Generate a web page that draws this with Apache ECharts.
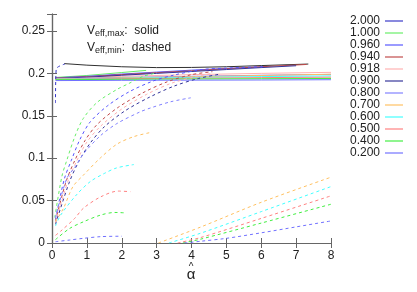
<!DOCTYPE html>
<html><head><meta charset="utf-8">
<script src="https://cdn.jsdelivr.net/npm/echarts@6/dist/echarts.min.js"></script>
<style>html,body{margin:0;padding:0;background:#fff}#c{width:417px;height:292px}</style>
</head><body><div id="c"></div>
<script>
// legend categories (parameter values) and colours
const params = ['2.000','1.000','0.960','0.940','0.918','0.900','0.800','0.700','0.600','0.500','0.400','0.200'];
const colors = ['#3535c8','#66ee66','#5555ff','#c04848','#ffb0b0','#333399','#8080ff','#ffc060','#40ffff','#ff8080','#40ee40','#7070ff'];
const xTicks = [0,1,2,3,4,5,6,7,8];
const yTicks = [0,0.05,0.1,0.15,0.2,0.25];

// Veff,max (solid)
const max_2000 = [[0.35,0.2115],[1,0.2097],[2,0.2078],[3,0.2068],[4,0.207],[5,0.2078],[6,0.2092],[7.35,0.211]];
const max_1000 = [[0.1,0.1952],[1,0.1975],[2,0.201],[2.7,0.2035]];
const max_0960 = [[0.1,0.1948],[1,0.1965],[2,0.1992],[3,0.2015],[4,0.2038],[5,0.2058],[6.1,0.2078]];
const max_0940 = [[0.1,0.1945],[1,0.196],[2,0.1985],[3,0.2008],[4,0.203],[5,0.2055],[6,0.2078],[7.3,0.2105]];
const max_0918 = [[0.1,0.1942],[2,0.1965],[4,0.1985],[6,0.2],[8,0.2012]];
const max_0900 = [[0.1,0.1942],[1,0.1955],[2,0.1978],[3,0.2],[4,0.2022],[5,0.2045],[6,0.2068],[7,0.209]];
const max_0800 = [[0.1,0.1938],[2,0.1952],[4,0.1965],[6,0.1978],[8,0.1988]];
const max_0700 = [[0.1,0.1935],[2,0.1948],[4,0.196],[6,0.1975],[8,0.199]];
const max_0600 = [[0.1,0.1932],[2,0.1942],[4,0.1952],[6,0.1962],[8,0.197]];
const max_0500 = [[0.1,0.193],[2,0.1937],[4,0.1943],[6,0.195],[8,0.1955]];
const max_0400 = [[0.1,0.1925],[2,0.193],[4,0.1934],[6,0.1937],[8,0.194]];
const max_0200 = [[0.1,0.1915],[2,0.1918],[4,0.192],[6,0.1922],[8,0.1925]];

// Veff,min (dashed) first branch
const min_2000 = [[0.1,0.165],[0.12,0.205],[0.37,0.211]];
const min_1000 = [[0.08,0.03],[0.28,0.078],[0.42,0.097],[0.66,0.126],[0.9,0.147],[1.3,0.166],[1.86,0.181],[2.2,0.188],[2.62,0.1966],[3.0,0.2005]];
const min_0960 = [[0.1,0.028],[0.35,0.075],[0.55,0.097],[0.8,0.122],[1.1,0.143],[1.6,0.162],[2.2,0.178],[2.9,0.191],[3.5,0.198],[4.3,0.2045],[5,0.2062],[6.1,0.208]];
const min_0940 = [[0.1,0.026],[0.4,0.072],[0.65,0.097],[0.95,0.121],[1.3,0.14],[1.9,0.16],[2.6,0.177],[3.3,0.19],[4,0.1985],[4.6,0.202]];
const min_0918 = [[0.1,0.024],[0.45,0.072],[0.7,0.096],[1.0,0.119],[1.4,0.138],[2.0,0.158],[2.7,0.175],[3.4,0.188],[4.1,0.196],[4.6,0.2]];
const min_0900 = [[0.1,0.022],[0.5,0.072],[0.78,0.097],[1.1,0.118],[1.5,0.137],[2.1,0.156],[2.8,0.172],[3.5,0.185],[4.2,0.194],[4.8,0.199]];
const min_0800 = [[0.1,0.03],[0.42,0.0757],[0.66,0.0897],[0.9,0.105],[1.38,0.1262],[1.86,0.1408],[2.52,0.1545],[2.81,0.159],[3.4,0.1665],[3.98,0.1712]];
const min_0700 = [[0.1,0.025],[0.33,0.041],[0.6,0.0665],[0.9,0.08],[1.38,0.1],[1.86,0.1165],[2.35,0.1255],[2.85,0.1305]];
const min_0600 = [[0.1,0.02],[0.25,0.033],[0.7,0.0567],[1.1,0.0725],[1.5,0.082],[1.85,0.0885],[2.35,0.0925]];
const min_0500 = [[0.1,0.009],[0.25,0.014],[0.65,0.029],[0.9,0.041],[1.4,0.0545],[1.9,0.0612],[2.25,0.0605]];
const min_0400 = [[0.1,0.004],[0.5,0.017],[0.9,0.025],[1.4,0.033],[1.8,0.036],[2.1,0.0355]];
const min_0200 = [[0.1,0.0015],[0.5,0.0035],[0.9,0.0055],[1.4,0.0075],[2.0,0.008]];
// Veff,min (dashed) second branch
const min2_0700 = [[3.05,0],[4.25,0.0186],[6,0.048],[8,0.0776]];
const min2_0600 = [[3.35,0],[4.25,0.0114],[6,0.037],[8,0.0665]];
const min2_0500 = [[3.6,0],[4.25,0.0063],[6,0.029],[8,0.0556]];
const min2_0400 = [[3.75,0],[4.25,0.0044],[6,0.0235],[8,0.0457]];
const min2_0200 = [[3.8,0],[4.25,0.002],[5,0.0055],[6,0.012],[7,0.019],[8,0.026]];

const solid = [max_2000,max_1000,max_0960,max_0940,max_0918,max_0900,max_0800,max_0700,max_0600,max_0500,max_0400,max_0200];
const solidColors = ['#303030'].concat(colors.slice(1));
const dashed = [[min_2000],[min_1000],[min_0960],[min_0940],[min_0918],[min_0900],[min_0800],[min_0700,min2_0700],[min_0600,min2_0600],[min_0500,min2_0500],[min_0400,min2_0400],[min_0200,min2_0200]];

const series = [];
params.forEach((p,i)=>{
  series.push({name:p,type:'line',data:solid[i],symbol:'none',silent:true,
    lineStyle:{color:solidColors[i],width:1},itemStyle:{color:solidColors[i]}});
});
dashed.forEach((arr,k)=>{
  arr.forEach((d,j)=>{
    series.push({name:params[k]+' min'+j,type:'line',data:d,symbol:'none',silent:true,smooth:0.3,
      lineStyle:{color:colors[k],width:1,type:[3,3]},itemStyle:{color:colors[k]}});
  });
});

const axisCommon = {
  axisLine:{show:true,lineStyle:{color:'#666',width:1.2}},
  axisTick:{show:true,inside:true,length:5,lineStyle:{color:'#666'}},
  splitLine:{show:false}
};
const font = 'Liberation Sans, Arial, sans-serif';
const chart = echarts.init(document.getElementById('c'));
chart.setOption({
  animation:false,
  grid:{left:52,right:86,top:14,bottom:49},
  xAxis:[
    Object.assign({type:'value',min:0,max:8,interval:1,position:'bottom',
      axisLabel:{fontSize:12,color:'#222',fontFamily:font,margin:7}},axisCommon),
    Object.assign({type:'value',min:0,max:8,interval:1,position:'top',axisLabel:{show:false}},axisCommon)
  ],
  yAxis:[
    Object.assign({type:'value',min:0,max:0.27,interval:0.05,position:'left',
      axisLabel:{fontSize:12,color:'#222',fontFamily:font,margin:7,formatter:v=>yTicks.indexOf(Math.round(v*100)/100)>=0?String(Math.round(v*100)/100):''}},axisCommon),
    Object.assign({type:'value',min:0,max:0.27,interval:0.05,position:'right',axisLabel:{show:false}},axisCommon)
  ],
  legend:{data:params.map((p,i)=>({name:p,icon:'rect',itemStyle:{color:colors[i],opacity:0.9}})),
    orient:'vertical',right:14,top:15,align:'right',padding:0,itemWidth:18,itemHeight:1.3,itemGap:0,
    textStyle:{fontSize:12,lineHeight:11.5,height:11.5,color:'#222',fontFamily:font,padding:0},selectedMode:false},
  graphic:[
    {type:'text',left:87,top:25,style:{text:'V{s|eff,max}:  solid',fontSize:12,fontFamily:font,fill:'#222',rich:{s:{fontSize:9,verticalAlign:'bottom',padding:[6,0,0,0],fontFamily:font,fill:'#222'}}}},
    {type:'text',left:87,top:42,style:{text:'V{s|eff,min}:  dashed',fontSize:12,fontFamily:font,fill:'#222',rich:{s:{fontSize:9,verticalAlign:'bottom',padding:[6,0,0,0],fontFamily:font,fill:'#222'}}}},
    {type:'text',x:191,y:275,style:{text:'α',fontSize:15,fontFamily:font,fill:'#222',align:'center',verticalAlign:'middle'}},
    {type:'text',x:191,y:267,style:{text:'^',fontSize:10,fontFamily:font,fill:'#222',align:'center',verticalAlign:'middle'}}
  ],
  series:series
});
</script></body></html>
